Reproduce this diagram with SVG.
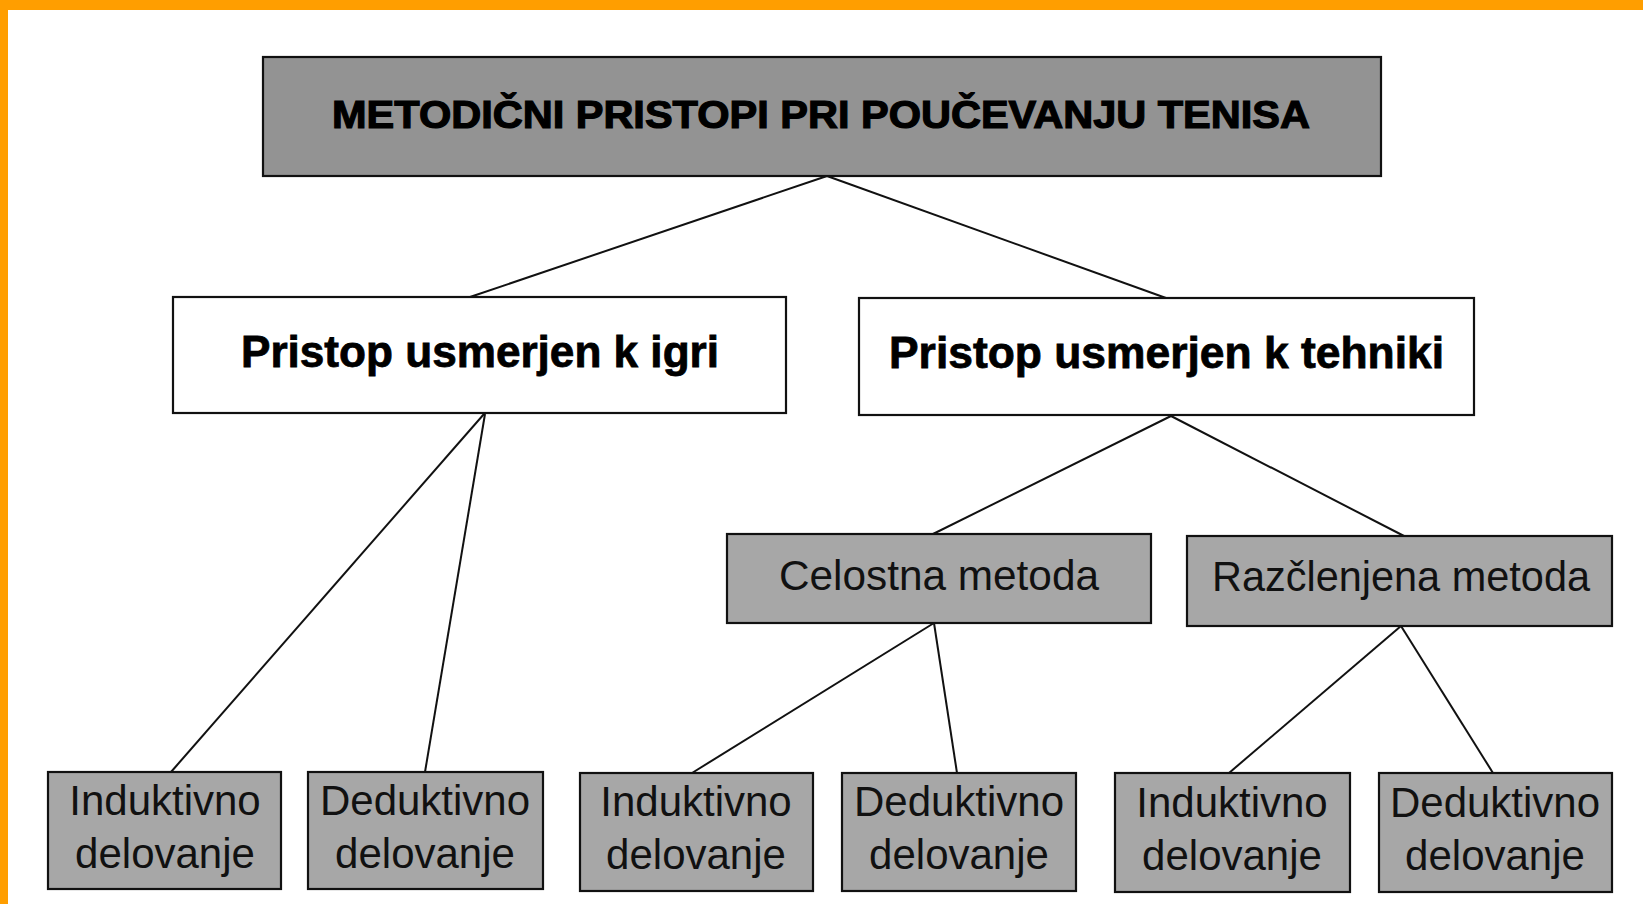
<svg xmlns="http://www.w3.org/2000/svg" width="1643" height="904" viewBox="0 0 1643 904">
<style>
.box{stroke:#111;stroke-width:2.2}
.dark{fill:#939393}
.grey{fill:#a7a7a7}
.white{fill:#fff}
.title{font-family:"Liberation Sans",Arial,sans-serif;font-weight:bold;font-size:39px;fill:#000;stroke:#000;stroke-width:1.2}
.head{font-family:"Liberation Sans",Arial,sans-serif;font-weight:bold;font-size:44px;fill:#000;stroke:#000;stroke-width:0.8}
.lbl{font-family:"Liberation Sans",Arial,sans-serif;font-size:42px;fill:#111}
.conn line{stroke:#111;stroke-width:2}
</style>
<rect x="0" y="0" width="1643" height="904" fill="#fff"/>
<rect x="0" y="0" width="1643" height="10" fill="#FF9E00"/>
<rect x="0" y="0" width="8" height="904" fill="#FF9E00"/>
<g class="conn">
<line x1="827" y1="176" x2="470" y2="297"/>
<line x1="827" y1="176" x2="1166" y2="298"/>
<line x1="484" y1="414" x2="171" y2="772"/>
<line x1="485" y1="414" x2="425" y2="772"/>
<line x1="1171" y1="416" x2="931" y2="535"/>
<line x1="1171" y1="416" x2="1404" y2="536"/>
<line x1="934" y1="623" x2="692" y2="773"/>
<line x1="934" y1="623" x2="957" y2="773"/>
<line x1="1401" y1="626" x2="1229" y2="773"/>
<line x1="1401" y1="626" x2="1493" y2="773"/>
</g>
<g id="title">
<rect class="box dark" x="263" y="57" width="1118" height="119"/>
<text class="title" x="332" y="128" textLength="978" lengthAdjust="spacingAndGlyphs">METODIČNI PRISTOPI PRI POUČEVANJU TENISA</text>
</g>
<g id="igra">
<rect class="box white" x="173" y="297" width="613" height="116"/>
<text class="head" x="241" y="367" textLength="478" lengthAdjust="spacingAndGlyphs">Pristop usmerjen k igri</text>
</g>
<g id="tehnika">
<rect class="box white" x="859" y="298" width="615" height="117"/>
<text class="head" x="889" y="368" textLength="555" lengthAdjust="spacingAndGlyphs">Pristop usmerjen k tehniki</text>
</g>
<g id="celostna">
<rect class="box grey" x="727" y="534" width="424" height="89"/>
<text class="lbl" x="779" y="590" textLength="320" lengthAdjust="spacingAndGlyphs">Celostna metoda</text>
</g>
<g id="razclenjena">
<rect class="box grey" x="1187" y="536" width="425" height="90"/>
<text class="lbl" x="1212" y="591" textLength="378" lengthAdjust="spacingAndGlyphs">Razčlenjena metoda</text>
</g>
<g id="igra-ind">
<rect class="box grey" x="48" y="772" width="233" height="117"/>
<text class="lbl" x="165" y="815" text-anchor="middle">Induktivno</text>
<text class="lbl" x="165" y="868" text-anchor="middle">delovanje</text>
</g>
<g id="igra-ded">
<rect class="box grey" x="308" y="772" width="235" height="117"/>
<text class="lbl" x="425" y="815" text-anchor="middle">Deduktivno</text>
<text class="lbl" x="425" y="868" text-anchor="middle">delovanje</text>
</g>
<g id="cel-ind">
<rect class="box grey" x="580" y="773" width="233" height="118"/>
<text class="lbl" x="696" y="816" text-anchor="middle">Induktivno</text>
<text class="lbl" x="696" y="869" text-anchor="middle">delovanje</text>
</g>
<g id="cel-ded">
<rect class="box grey" x="842" y="773" width="234" height="118"/>
<text class="lbl" x="959" y="816" text-anchor="middle">Deduktivno</text>
<text class="lbl" x="959" y="869" text-anchor="middle">delovanje</text>
</g>
<g id="raz-ind">
<rect class="box grey" x="1115" y="773" width="235" height="119"/>
<text class="lbl" x="1232" y="817" text-anchor="middle">Induktivno</text>
<text class="lbl" x="1232" y="870" text-anchor="middle">delovanje</text>
</g>
<g id="raz-ded">
<rect class="box grey" x="1379" y="773" width="233" height="119"/>
<text class="lbl" x="1495" y="817" text-anchor="middle">Deduktivno</text>
<text class="lbl" x="1495" y="870" text-anchor="middle">delovanje</text>
</g>
</svg>
